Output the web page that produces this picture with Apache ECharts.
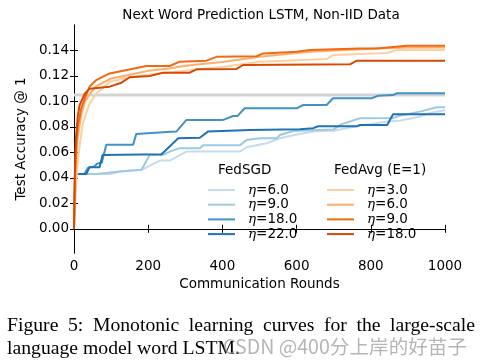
<!DOCTYPE html>
<html>
<head>
<meta charset="utf-8">
<script src="https://cdn.jsdelivr.net/npm/echarts@6/dist/echarts.min.js"></script>
<style>
html,body{margin:0;padding:0;background:#fff;}
#chart{width:484px;height:364px;}
</style>
</head>
<body>
<div id="chart"></div>
<script>
// ---- data (rounds, test accuracy) ----
const xTicks = [0, 200, 400, 600, 800, 1000];
const yTicks = [0.00, 0.02, 0.04, 0.06, 0.08, 0.10, 0.12, 0.14];
const targetAccuracy = 0.105;

const sgdEta6 = [[0,0.043],[100,0.043],[123,0.045],[182,0.0463],[231,0.0536],[258,0.0536],[303,0.0606],[447,0.0606],[465,0.064],[519,0.0672],[555,0.0711],[600,0.074],[650,0.0765],[700,0.077],[771,0.081],[840,0.084],[880,0.085],[930,0.088],[960,0.091],[1000,0.093]];
const sgdEta9 = [[0,0.043],[60,0.043],[123,0.045],[182,0.0463],[204,0.058],[240,0.058],[258,0.0606],[285,0.0633],[339,0.0633],[348,0.0655],[447,0.0655],[465,0.0698],[500,0.0711],[547,0.0711],[555,0.0737],[591,0.0768],[700,0.078],[720,0.082],[771,0.0868],[860,0.087],[880,0.089],[932,0.092],[978,0.0954],[1000,0.0955]];
const sgdEta18 = [[0,0.043],[28,0.043],[38,0.048],[55,0.049],[62,0.051],[75,0.052],[87,0.0659],[159,0.0659],[168,0.0745],[250,0.076],[276,0.0763],[303,0.0855],[402,0.0855],[429,0.0886],[441,0.0886],[460,0.0946],[600,0.0946],[618,0.0972],[681,0.0972],[698,0.1025],[802,0.1025],[820,0.1045],[860,0.105],[870,0.1064],[1000,0.1064]];
const sgdEta22 = [[0,0.043],[33,0.043],[42,0.0484],[69,0.0484],[77,0.058],[236,0.0586],[281,0.0711],[339,0.0715],[361,0.0763],[474,0.0776],[609,0.0782],[645,0.079],[658,0.0805],[762,0.0805],[771,0.0815],[844,0.0815],[860,0.0899],[1000,0.0899]];

const avgEta3 = [[0,0.0],[3,0.02],[8,0.045],[15,0.065],[24,0.083],[42,0.0985],[60,0.106],[96,0.1155],[150,0.119],[200,0.121],[300,0.124],[400,0.127],[500,0.1312],[681,0.1333],[698,0.1364],[843,0.138],[870,0.1403],[1000,0.1403]];
const avgEta6 = [[0,0.0],[3,0.03],[6,0.055],[10,0.072],[20,0.09],[30,0.1],[45,0.107],[60,0.112],[100,0.118],[150,0.121],[200,0.124],[260,0.126],[300,0.128],[400,0.131],[500,0.135],[636,0.139],[816,0.1416],[900,0.1424],[1000,0.1424]];
const avgEta9 = [[0,0.0],[2,0.035],[5,0.062],[10,0.08],[20,0.095],[30,0.103],[42,0.1116],[60,0.1168],[96,0.122],[195,0.1278],[258,0.1278],[285,0.1312],[357,0.132],[384,0.135],[492,0.1355],[510,0.1377],[600,0.139],[636,0.1403],[770,0.1416],[816,0.1416],[897,0.1437],[1000,0.1437]];
const avgEta18 = [[0,0.0],[2,0.04],[5,0.07],[10,0.088],[15,0.097],[29,0.106],[42,0.110],[96,0.1116],[128,0.1147],[150,0.119],[204,0.120],[240,0.1226],[312,0.1226],[330,0.1252],[438,0.1255],[456,0.1286],[744,0.1291],[762,0.132],[1000,0.132]];

const sgdLabels = ['6.0','9.0','18.0','22.0'];
const avgLabels = ['3.0','6.0','9.0','18.0'];
const sgdColors = ['#c6dbef','#9ecae1','#4292c6','#2171b5'];
const avgColors = ['#fdd0a2','#fdae6b','#f16913','#d94801'];

const titleText = 'Next Word Prediction LSTM, Non-IID Data';
const legendTitles = ['FedSGD', 'FedAvg (E=1)'];
const captionLine1 = 'Figure 5: Monotonic learning curves for the large-scale';
const captionLine2 = 'language model word LSTM.';
const watermark = 'CSDN @400分上岸的好苗子';

// ---- chart ----
const FONT = '"DejaVu Sans", sans-serif';
const chart = echarts.init(document.getElementById('chart'), null, {renderer:'canvas'});

function mkSeries(name, data, color){
  return {name, type:'line', data, symbol:'none', showSymbol:false,
    lineStyle:{color, width:2}, itemStyle:{color}, animation:false, z:3};
}
const series = [
  {name:'target', type:'line', data:[[0,targetAccuracy],[1000,targetAccuracy]], symbol:'none',
   lineStyle:{color:'#d3d3d3', width:3}, animation:false, z:2, silent:true}
];
[sgdEta6,sgdEta9,sgdEta18,sgdEta22].forEach((d,i)=>series.push(mkSeries('FedSGD η='+sgdLabels[i], d, sgdColors[i])));
[avgEta3,avgEta6,avgEta9,avgEta18].forEach((d,i)=>series.push(mkSeries('FedAvg η='+avgLabels[i], d, avgColors[i])));

// ---- legend drawn as graphic (two columns with titles) ----
const legendEls = [];
const rowY = [190, 204.7, 219.4, 234.1];
function legendColumn(title, titleX, lineX, textX, labels, colors){
  legendEls.push({type:'text', x:titleX, y:170, style:{text:title, font:'13.5px "DejaVu Sans"', fill:'#000', verticalAlign:'middle'}});
  labels.forEach((lab,i)=>{
    legendEls.push({type:'line', shape:{x1:lineX, y1:rowY[i], x2:lineX+27, y2:rowY[i]}, style:{stroke:colors[i], lineWidth:2}});
    legendEls.push({type:'text', x:textX, y:rowY[i], style:{
      text:'{e|η}{t|=' + lab + '}', verticalAlign:'middle',
      rich:{e:{font:'italic 13.5px "DejaVu Serif"', fill:'#000'}, t:{font:'13.5px "DejaVu Sans"', fill:'#000'}}}});
  });
}
legendColumn(legendTitles[0], 218, 208, 248, sgdLabels, sgdColors);
legendColumn(legendTitles[1], 334, 327, 367, avgLabels, avgColors);

// caption words justified across line width
const CAPFONT = '19.7px "Liberation Serif"';
const mctx = document.createElement('canvas').getContext('2d');
mctx.font = CAPFONT;
const words = captionLine1.split(' ');
const widths = words.map(w=>mctx.measureText(w).width);
const capLeft = 7, capRight = 475;
const gap = (capRight - capLeft - widths.reduce((a,b)=>a+b,0)) / (words.length-1);
const captionEls = [];
let cx = capLeft;
words.forEach((w,i)=>{
  captionEls.push({type:'text', x:cx, y:326, style:{text:w, font:CAPFONT, fill:'#000', verticalAlign:'middle'}});
  cx += widths[i] + gap;
});
captionEls.push({type:'text', x:capLeft, y:348.5, style:{text:captionLine2, font:CAPFONT, fill:'#000', verticalAlign:'middle'}});
captionEls.push({type:'text', x:223, y:347, z:100, style:{text:watermark, font:'19.6px "Noto Sans CJK SC"', fill:'rgba(150,150,150,0.7)', verticalAlign:'middle'}});

const tickStyle = {show:true, inside:true, length:4, lineStyle:{color:'#000', width:1}};
const axisLine = {show:true, lineStyle:{color:'#000', width:1}};

chart.setOption({
  animation:false,
  backgroundColor:'#fff',
  grid:{left:74, right:39, top:25, bottom:111, containLabel:false},
  xAxis:[
    {type:'value', min:0, max:1000, interval:200, position:'bottom',
     axisLine, axisTick:tickStyle, splitLine:{show:false},
     axisLabel:{color:'#000', fontFamily:FONT, fontSize:13.5, margin:6, formatter:v=>String(v)},
     name:'Communication Rounds', nameLocation:'middle', nameGap:24,
     nameTextStyle:{color:'#000', fontFamily:FONT, fontSize:13.5}},
    {type:'value', min:0, max:1000, interval:200, position:'top',
     axisLine, axisTick:tickStyle, splitLine:{show:false}, axisLabel:{show:false}}
  ],
  yAxis:[
    {type:'value', min:-0.019, max:0.16, position:'left',
     axisLine, splitLine:{show:false},
     axisTick:Object.assign({customValues:yTicks}, tickStyle),
     axisLabel:{customValues:yTicks, color:'#000', fontFamily:FONT, fontSize:13.5, margin:5, formatter:v=>v.toFixed(2)},
     name:'Test Accuracy @ 1', nameLocation:'middle', nameGap:41,
     nameTextStyle:{color:'#000', fontFamily:FONT, fontSize:13.5}},
    {type:'value', min:-0.019, max:0.16, position:'right',
     axisLine, splitLine:{show:false},
     axisTick:Object.assign({customValues:yTicks}, tickStyle),
     axisLabel:{show:false}}
  ],
  graphic:[
    {type:'text', x:261, y:15, style:{text:titleText, font:'13.5px "DejaVu Sans"', fill:'#000', align:'center', verticalAlign:'middle'}}
  ].concat(legendEls, captionEls),
  series
});
</script>
</body>
</html>
